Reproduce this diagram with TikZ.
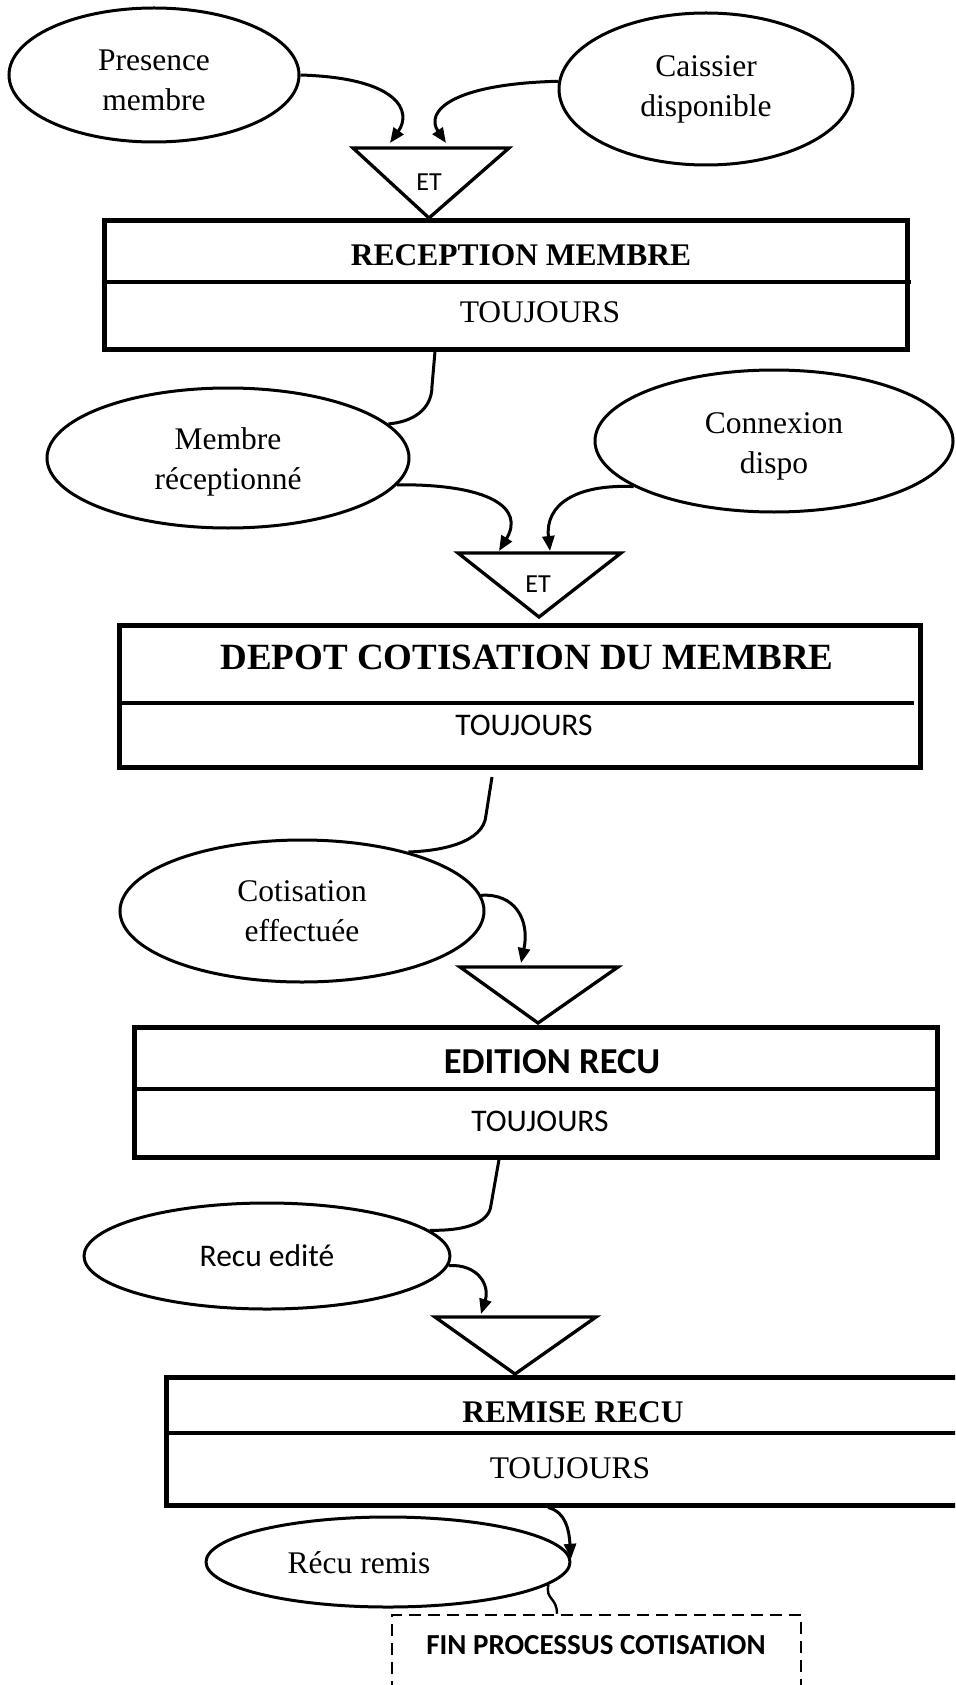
\documentclass[tikz,border=0pt]{standalone}
\usepackage{fontspec}
\setmainfont{Liberation Serif}
\newfontfamily\calfont{Carlito}
\usetikzlibrary{shapes.geometric,arrows.meta}
\begin{document}
\begin{tikzpicture}[x=1pt,y=-1pt,
  ev/.style={draw, ellipse, line width=3pt, inner sep=0pt, align=center, font=\fontsize{31.5}{40}\selectfont},
  pbox/.style={draw, rectangle, line width=5pt, inner sep=0pt},
  divl/.style={line width=4pt},
  tri/.style={draw, line width=3.3pt, line join=miter},
  arr/.style={line width=3pt, -{Triangle[length=15pt,width=12pt]}},
  conn/.style={line width=3pt},
  tms/.style={font=\fontsize{31.5}{38}\selectfont, inner sep=0pt},
  tmsb/.style={font=\bfseries\fontsize{31.5}{38}\selectfont, inner sep=0pt},
  cal/.style={font=\calfont\fontsize{31.5}{38}\selectfont, inner sep=0pt},
  calb/.style={font=\calfont\bfseries\fontsize{36.5}{42}\selectfont, inner sep=0pt}]
\clip (0,0) rectangle (955,1685);
\fill[white] (0,0) rectangle (955,1685);

% ---- top events
\node[ev, minimum width=290pt, minimum height=134pt] (pres) at (154,75) {\rule{0pt}{31pt}Presence\\membre};
\node[ev, minimum width=294pt, minimum height=152pt] (cais) at (706,89) {Caissier\\disponible};

% ---- triangle 1
\draw[tri] (353,148) -- (509,148) -- (429,218) -- cycle;
\node[font=\calfont\fontsize{26}{30}\selectfont, inner sep=0pt] (et1) at (429,182) {ET};
\coordinate (in1a) at (390,143);
\coordinate (in1b) at (446,143);
\draw[arr] (pres.east) .. controls (400,78) and (412,112) .. (in1a);
\draw[arr] (cais.177) .. controls (450,84) and (425,112) .. (in1b);

% ---- box 1
\node[pbox, minimum width=803pt, minimum height=128pt] (b1) at (505.5,285) {};
\draw[divl] (b1.west |- 0,282) -- (911,282);
\node[tmsb] (b1t) at (521,255) {RECEPTION MEMBRE};
\node[tms] (b1c) at (540,312) {TOUJOURS};

% ---- second events
\node[ev, minimum width=362pt, minimum height=140pt] (memb) at (228,458) {\rule{0pt}{29pt}Membre\\réceptionné};
\node[ev, minimum width=358pt, minimum height=142pt] (conn) at (774,441) {\rule{0pt}{31pt}Connexion\\dispo};
\draw[conn] (435,0 |- b1.south) -- (432,386) .. controls (432,410) and (412,422) .. (memb.12);

% ---- triangle 2
\draw[tri] (458,553) -- (621,553) -- (539,617) -- cycle;
\node[font=\calfont\fontsize{26}{30}\selectfont, inner sep=0pt] (et2) at (538,584) {ET};
\coordinate (in2a) at (499,551);
\coordinate (in2b) at (550,551);
\draw[arr] (memb.-9) .. controls (490,484) and (525,508) .. (in2a);
\draw[arr] (conn.198) .. controls (575,484) and (545,505) .. (in2b);

% ---- box 2
\node[pbox, minimum width=801pt, minimum height=142pt] (b2) at (519.5,696) {};
\draw[divl] (b2.west |- 0,703) -- (914,703);
\node[font=\bfseries\fontsize{37}{44}\selectfont, inner sep=0pt] (b2t) at (527,657) {DEPOT COTISATION DU MEMBRE};
\node[cal] (b2c) at (524,725) {TOUJOURS};

% ---- cotisation
\node[ev, minimum width=364pt, minimum height=142pt] (coti) at (302,911) {Cotisation\\effectuée};
\coordinate (g2) at (492,777);
\draw[conn] (g2) -- (486,815) .. controls (484,843) and (440,851) .. (coti.29);

% ---- triangle 3
\draw[tri] (460,967) -- (618,967) -- (538,1023) -- cycle;
\coordinate (in3) at (521,963);
\draw[arr] (coti.5) .. controls (515,893) and (530,920) .. (in3);

% ---- box 3
\node[pbox, minimum width=803pt, minimum height=130pt] (b3) at (535.5,1092) {};
\draw[divl] (b3.west |- 0,1089) -- (b3.east |- 0,1089);
\node[calb] (b3t) at (552,1062) {EDITION RECU};
\node[cal] (b3c) at (540,1121) {TOUJOURS};

% ---- recu edite
\node[ev, minimum width=366pt, minimum height=106pt, font=\calfont\fontsize{31.5}{38}\selectfont] (recued) at (267,1256) {Recu edité};
\draw[conn] (499,0 |- b3.south) -- (491,1205) .. controls (489,1225) and (460,1231) .. (recued.9);

% ---- triangle 4
\draw[tri] (435,1317) -- (596,1317) -- (515,1374) -- cycle;
\coordinate (in4) at (481,1314);
\draw[arr] (recued.-3) .. controls (478,1264) and (490,1285) .. (in4);

% ---- box 4
\node[pbox, minimum width=799pt, minimum height=128pt] (b4) at (565.5,1441) {};
\draw[divl] (b4.west |- 0,1433) -- (b4.east |- 0,1433);
\node[tmsb] (b4t) at (573,1412) {REMISE RECU};
\node[tms] (b4c) at (570,1468) {TOUJOURS};

% ---- recu remis
\node[ev, minimum width=364pt, minimum height=90pt] (rr) at (388,1562) {};
\node[tms] (rrt) at (359,1563) {Récu remis};
\draw[arr] (548,0 |- b4.south) .. controls (566,1512) and (569,1530) .. (rr.1);

% ---- fin
\node[draw, line width=2.5pt, dash pattern=on 12pt off 7pt, minimum width=409pt, minimum height=85pt, inner sep=0pt] (fin) at (596.5,1657.5) {};
\node[font=\calfont\bfseries\fontsize{29}{34}\selectfont, inner sep=0pt] (fint) at (596,1645) {FIN PROCESSUS COTISATION};
\draw[line width=2.4pt] (rr.-8) .. controls (545,1600) and (557,1597) .. (557,0 |- fin.north);
\end{tikzpicture}
\end{document}
